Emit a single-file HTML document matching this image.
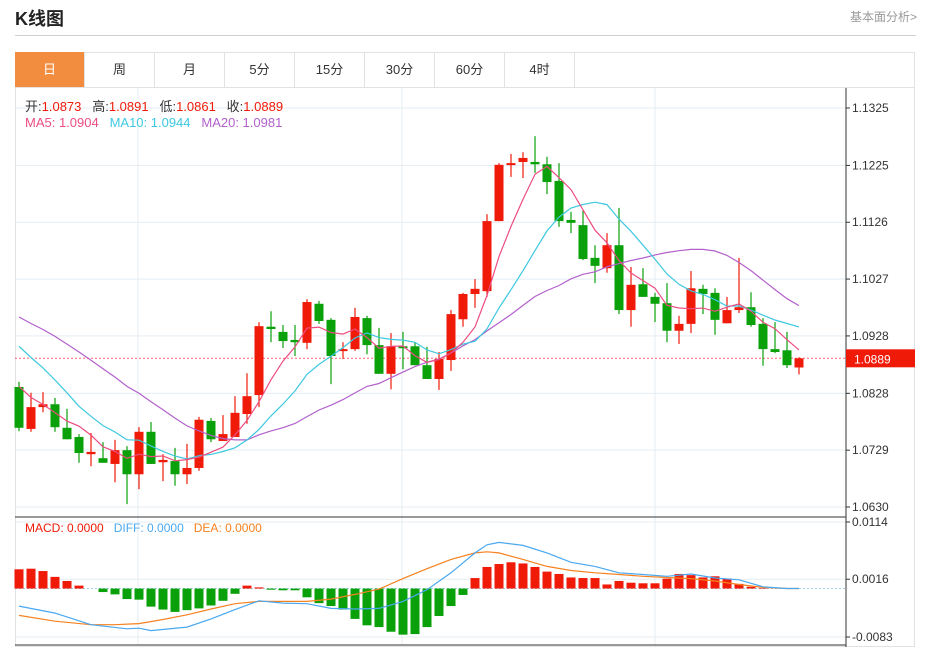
<!DOCTYPE html>
<html><head><meta charset="utf-8"><style>
body{margin:0;background:#fff;width:925px;height:649px;overflow:hidden;font-family:"Liberation Sans","Noto Sans CJK SC",sans-serif;}
.title{position:absolute;left:15px;top:5px;font-size:18px;font-weight:bold;color:#222;}
.more{position:absolute;right:8px;top:8px;font-size:12px;color:#999;}
.hline{position:absolute;left:15px;width:901px;top:35px;height:1px;background:#d0d0d0;}
.box{position:absolute;left:15px;top:52px;width:900px;height:595px;border:1px solid #e2e2e2;box-sizing:border-box;}
.tabs{position:absolute;left:15px;top:52px;height:36px;width:900px;border-bottom:1px solid #e2e2e2;box-sizing:border-box;}
.tab{position:absolute;top:0;height:35px;width:70px;border-right:1px solid #e2e2e2;text-align:center;line-height:35px;font-size:13px;color:#333;box-sizing:border-box;}
.tab.on{background:#f28c3f;color:#fff;}
svg{position:absolute;left:0;top:0;}
</style></head><body>
<div class="title">K线图</div>
<div class="more">基本面分析&gt;</div>
<div class="hline"></div>
<div class="box"></div>
<div class="tabs">
<div class="tab on" style="left:0">日</div>
<div class="tab" style="left:70px">周</div>
<div class="tab" style="left:140px">月</div>
<div class="tab" style="left:210px">5分</div>
<div class="tab" style="left:280px">15分</div>
<div class="tab" style="left:350px">30分</div>
<div class="tab" style="left:420px">60分</div>
<div class="tab" style="left:490px">4时</div>
</div>
<svg id="chart" width="925" height="649"></svg>
<script>
const opens=[10839,10766,10804,10809,10768,10752,10722,10715,10705,10729,10687,10761,10708,10710,10687,10698,10780,10745,10752,10792,10825,10944,10935,10921,10916,10984,10956,10903,10905,10959,10912,10862,10910,10910,10877,10853,10886,10957,11001,11006,11128,11226,11231,11231,11227,11198,11130,11121,11064,11046,11086,10973,11018,10996,10985,10937,10949,11010,11003,10950,10973,10978,10949,10905,10903,10873];
const closes=[10768,10804,10809,10769,10748,10724,10726,10707,10729,10687,10761,10705,10712,10687,10698,10782,10748,10757,10794,10823,10945,10940,10919,10917,10987,10954,10893,10905,10961,10912,10862,10910,10907,10877,10853,10888,10966,11001,11010,11128,11226,11229,11238,11227,11196,11128,11125,11062,11050,11086,10973,11017,10996,10984,10937,10949,11011,11001,10956,10973,10978,10947,10905,10900,10877,10889];
const highs=[10848,10829,10830,10820,10801,10757,10759,10743,10747,10736,10769,10778,10722,10733,10740,10787,10785,10790,10823,10863,10952,10971,10947,10947,10992,10989,10959,10917,10977,10963,10942,10933,10935,10917,10909,10900,10973,11003,11027,11140,11229,11245,11248,11276,11240,11229,11144,11146,11086,11107,11151,11048,11046,11003,11020,10963,11041,11017,11011,10996,11064,11004,10959,10952,10935,10891];
const lows=[10762,10761,10795,10761,10748,10707,10701,10707,10673,10635,10661,10705,10675,10667,10670,10693,10743,10745,10752,10775,10804,10917,10907,10893,10905,10949,10844,10888,10902,10896,10862,10835,10870,10877,10853,10834,10867,10944,10977,10996,11128,11205,11203,11212,11175,11118,11107,11060,11020,11038,10966,10944,10996,10952,10917,10914,10933,10966,10930,10950,10968,10944,10876,10898,10872,10861];
const priorCloses=[11030,11020,11010,11015,11000,11010,11005,11020,11010,11000,11000,10990,10980,10970,10960,10900,10870,10840,10822];
const yTicks=[1.1325,1.1225,1.1126,1.1027,1.0928,1.0828,1.0729,1.0630];
const macdHist=[0.0033,0.0034,0.0030,0.0020,0.0013,0.0005,0,-0.0006,-0.0010,-0.0018,-0.0019,-0.0031,-0.0036,-0.0040,-0.0037,-0.0034,-0.0029,-0.0021,-0.0009,0.0005,0.0002,-0.0002,-0.0003,-0.0003,-0.0015,-0.0025,-0.0030,-0.0036,-0.0052,-0.0063,-0.0066,-0.0074,-0.0079,-0.0078,-0.0066,-0.0047,-0.0030,-0.0011,0.0018,0.0037,0.0042,0.0045,0.0043,0.0037,0.0029,0.0025,0.0019,0.0018,0.0018,0.0007,0.0013,0.0010,0.0009,0.0009,0.0017,0.0025,0.0023,0.0019,0.0021,0.0017,0.0008,0.0003,0.0001,0,0,0];
const diffIdx=[0,3,6,9,10,11,14,16,18,20,22,24,26,28,30,32,34,36,38,39,40,42,44,46,48,50,52,54,56,58,60,62,64,65];
const diffVals=[-0.0030,-0.0042,-0.0062,-0.0069,-0.0068,-0.0072,-0.0066,-0.0052,-0.0036,-0.0021,-0.0025,-0.0026,-0.0034,-0.0035,-0.0034,-0.0022,-0.0002,0.0027,0.0061,0.0075,0.0079,0.0074,0.0061,0.0045,0.0038,0.0027,0.0024,0.0021,0.0025,0.0018,0.0015,0.0003,0,0];
const deaIdx=[0,3,6,8,10,12,14,16,18,20,22,24,26,28,30,32,34,36,38,39,40,42,44,46,48,50,52,54,56,58,60,62,64,65];
const deaVals=[-0.0046,-0.0056,-0.0062,-0.0062,-0.0060,-0.0053,-0.0045,-0.0035,-0.0026,-0.0022,-0.0022,-0.0022,-0.0018,-0.0010,-0.0001,0.0017,0.0034,0.0050,0.0061,0.0063,0.0061,0.0050,0.0038,0.0031,0.0027,0.0024,0.0021,0.0019,0.0017,0.0013,0.0007,0.0002,0,0];
const macdTicks=[0.0114,0.0016,-0.0083];

const svg=document.getElementById('chart');
const NS='http://www.w3.org/2000/svg';
function el(t,a,p){const e=document.createElementNS(NS,t);for(const k in a)e.setAttribute(k,a[k]);(p||svg).appendChild(e);return e;}
const L=15,R=846;
const x=i=>19+12*i;
const yP=p=>108+(1.1325-p/10000)/0.0695*399;
const yPv=v=>108+(1.1325-v)/0.0695*399;
const yM=v=>522+(0.0114-v)/0.0197*115;
// grid
[138,402,655].forEach(gx=>{const g=el('line',{x1:gx,x2:gx,y1:88,y2:645,stroke:'#e4edf3'});
});
yTicks.forEach(t=>{const y=yPv(t);
const g=el('line',{x1:L,x2:R,y1:y,y2:y,stroke:'#e4edf3'});

el('line',{x1:R,x2:R+4,y1:y,y2:y,stroke:'#333'});
const tx=el('text',{x:R+6,y:y+4,'font-size':12,fill:'#333'});tx.textContent=t.toFixed(4);
});
macdTicks.forEach(t=>{const y=yM(t);
const g=el('line',{x1:L,x2:R,y1:y,y2:y,stroke:'#e4edf3'});

el('line',{x1:R,x2:R+4,y1:y,y2:y,stroke:'#333'});
const tx=el('text',{x:R+6,y:y+4,'font-size':12,fill:'#333'});tx.textContent=t.toFixed(4);
});
el('line',{x1:R,x2:R,y1:88,y2:647,stroke:'#333'});
el('line',{x1:L,x2:R,y1:517,y2:517,stroke:'#333'});
el('line',{x1:L,x2:R,y1:645,y2:645,stroke:'#333'});
// last price line
const lastY=yP(closes[closes.length-1]);
const pl=el('line',{x1:L,x2:R,y1:lastY,y2:lastY,stroke:'#f23',"stroke-dasharray":'2,2','stroke-opacity':0.7});

const pb=el('rect',{x:R,y:lastY-9,width:69,height:18,fill:'#f01a08'});

const pt=el('text',{x:R+8,y:lastY+5,'font-size':12,fill:'#fff'});pt.textContent=(closes[closes.length-1]/10000).toFixed(4);
// candles
for(let i=0;i<opens.length;i++){
 const up=closes[i]>=opens[i];const c=up?'#f01a08':'#0aa00a';
 const w=el('line',{x1:x(i),x2:x(i),y1:yP(highs[i]),y2:yP(lows[i]),stroke:c,'stroke-width':1.2});
 
 const t=Math.min(yP(opens[i]),yP(closes[i]));const h=Math.max(2,Math.abs(yP(opens[i])-yP(closes[i])));
 const b=el('rect',{x:x(i)-4.5,y:t,width:9,height:h,fill:c});
 
}
// moving averages
const all=priorCloses.concat(closes);const off=priorCloses.length;
function ma(n,col,name){let d='';for(let i=0;i<closes.length;i++){let s=0;for(let k=0;k<n;k++)s+=all[off+i-k];
 d+=(i?'L':'M')+x(i)+','+yP(s/n).toFixed(1);}
 const p=el('path',{d:d,fill:'none',stroke:col,'stroke-width':1.2});
 }
ma(20,'#b360cc','ma20-line');ma(10,'#3ec8e0','ma10-line');ma(5,'#ec4d80','ma5-line');
// macd
const zl=el('line',{x1:L,x2:R,y1:yM(0),y2:yM(0),stroke:'#9cd3f0','stroke-dasharray':'2,2'});

macdHist.forEach((v,i)=>{if(v===0)return;const y0=yM(0),y1=yM(v);
 const r=el('rect',{x:x(i)-4.5,y:Math.min(y0,y1),width:9,height:Math.abs(y1-y0),fill:v>0?'#f01a08':'#0aa00a'});
 });
function line(idx,vals,col,name){let d='';idx.forEach((ix,k)=>{d+=(k?'L':'M')+x(ix)+','+yM(vals[k]).toFixed(1);});
 const p=el('path',{d:d,fill:'none',stroke:col,'stroke-width':1.2});
 }
line(deaIdx,deaVals,'#f58220','dea-line');line(diffIdx,diffVals,'#4aa8f0','diff-line');
</script>
<div style="position:absolute;left:25px;top:96px;font-size:13px;color:#333;white-space:nowrap">开:<span style="color:#f01a08">1.0873</span>&nbsp;&nbsp; 高:<span style="color:#f01a08">1.0891</span>&nbsp;&nbsp; 低:<span style="color:#f01a08">1.0861</span>&nbsp;&nbsp; 收:<span style="color:#f01a08">1.0889</span></div>
<div style="position:absolute;left:25px;top:115px;font-size:13px;white-space:nowrap"><span style="color:#ec4d80">MA5: 1.0904</span>&nbsp;&nbsp; <span style="color:#3ec8e0">MA10: 1.0944</span>&nbsp;&nbsp; <span style="color:#b360cc">MA20: 1.0981</span></div>
<div style="position:absolute;left:25px;top:521px;font-size:12px;white-space:nowrap"><span style="color:#f01a08">MACD: 0.0000</span>&nbsp;&nbsp; <span style="color:#4aa8f0">DIFF: 0.0000</span>&nbsp;&nbsp; <span style="color:#f58220">DEA: 0.0000</span></div>
</body></html>
